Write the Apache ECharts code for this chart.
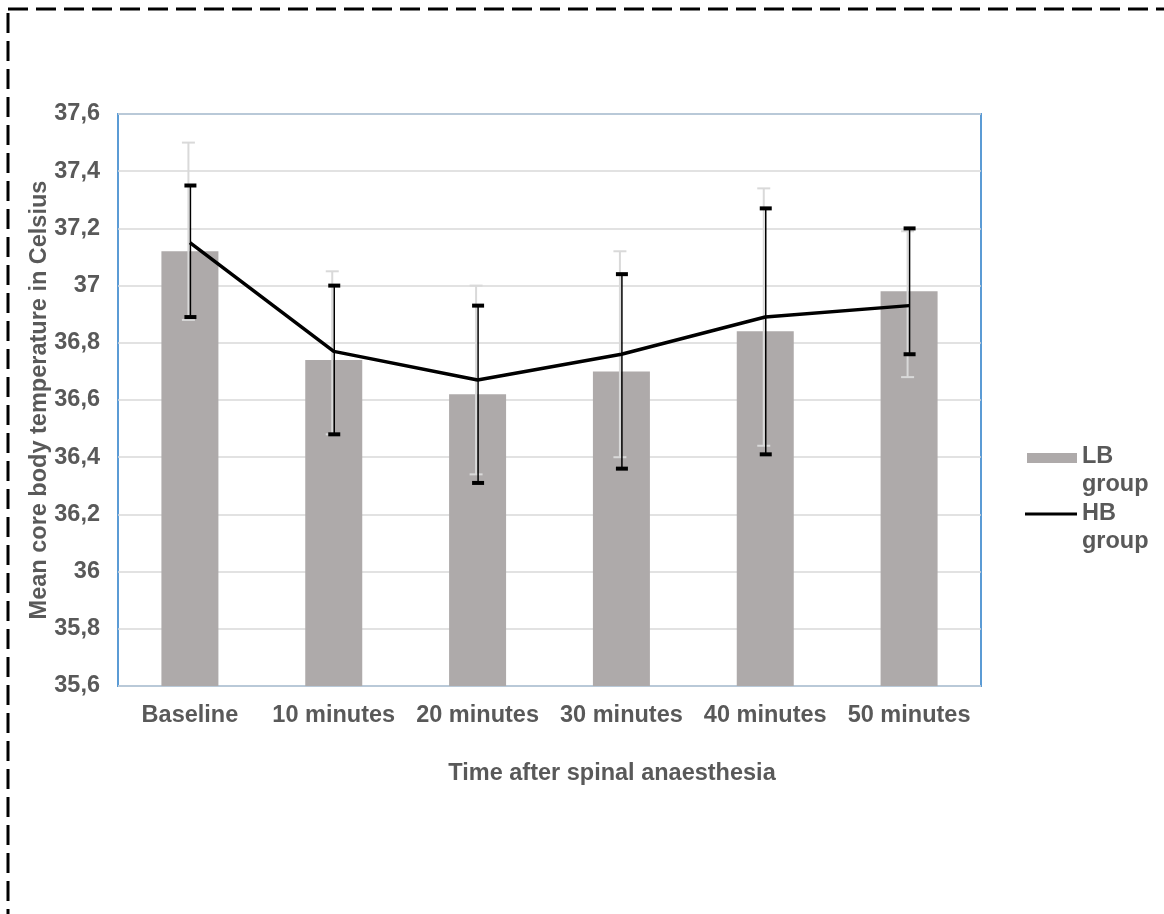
<!DOCTYPE html>
<html>
<head>
<meta charset="utf-8">
<script src="https://cdn.jsdelivr.net/npm/echarts@6/dist/echarts.min.js"></script>
<style>
html,body{margin:0;padding:0;background:#fff;}
#chart{width:1164px;height:914px;}
</style>
</head>
<body>
<div id="chart"></div>
<script>
var categories = ['Baseline', '10 minutes', '20 minutes', '30 minutes', '40 minutes', '50 minutes'];
var lbMeans = [37.12, 36.74, 36.62, 36.70, 36.84, 36.98];
var lbLow   = [36.88, 36.48, 36.34, 36.40, 36.44, 36.68];
var lbHigh  = [37.50, 37.05, 37.00, 37.12, 37.34, 37.19];
var hbMeans = [37.15, 36.77, 36.67, 36.76, 36.89, 36.93];
var hbLow   = [36.89, 36.48, 36.31, 36.36, 36.41, 36.76];
var hbHigh  = [37.35, 37.00, 36.93, 37.04, 37.27, 37.20];
var yTicks = ['35,6','35,8','36','36,2','36,4','36,6','36,8','37','37,2','37,4','37,6'];

var FONT = 'Liberation Sans, Arial, sans-serif';
var TXT = '#595959';
var FS = 23.5;

function errData(low, high) {
  return categories.map(function (c, i) { return [i, low[i], high[i]]; });
}

function errRender(dx, color, lineW, capW, capH) {
  return function (params, api) {
    var x = api.value(0);
    var lo = api.coord([x, api.value(1)]);
    var hi = api.coord([x, api.value(2)]);
    var px = lo[0] + dx;
    return {
      type: 'group',
      children: [
        { type: 'line', shape: { x1: px, y1: lo[1], x2: px, y2: hi[1] },
          style: { stroke: color, lineWidth: lineW } },
        { type: 'rect', shape: { x: px - capW / 2, y: hi[1] - capH / 2, width: capW, height: capH },
          style: { fill: color } },
        { type: 'rect', shape: { x: px - capW / 2, y: lo[1] - capH / 2, width: capW, height: capH },
          style: { fill: color } }
      ]
    };
  };
}

var chart = echarts.init(document.getElementById('chart'), null, { renderer: 'canvas' });
chart.setOption({
  backgroundColor: '#ffffff',
  animation: false,
  textStyle: { fontFamily: FONT },
  grid: { left: 118, top: 114, right: 183, bottom: 228, show: true,
          borderColor: '#5b9bd5', borderWidth: 2, backgroundColor: 'transparent' },
  xAxis: {
    type: 'category',
    data: categories,
    axisLine: { show: false },
    axisTick: { show: false },
    axisLabel: { color: TXT, fontSize: FS, fontWeight: 'bold', fontFamily: FONT, margin: 18, interval: 0 }
  },
  yAxis: {
    type: 'value',
    min: 35.6, max: 37.6, interval: 0.2,
    name: 'Mean core body temperature in Celsius',
    nameLocation: 'middle',
    nameGap: 66,
    nameMoveOverlap: false,
    nameTextStyle: { color: TXT, fontSize: FS, fontWeight: 'bold', fontFamily: FONT },
    axisLine: { show: false },
    axisTick: { show: false },
    splitLine: { lineStyle: { color: '#d9d9d9', width: 1.5 } },
    axisLabel: {
      color: TXT, fontSize: FS, fontWeight: 'bold', fontFamily: FONT, margin: 18,
      formatter: function (v) {
        var idx = Math.round((v - 35.6) / 0.2);
        return yTicks[idx];
      }
    }
  },
  series: [
    { name: 'LB group', type: 'bar', data: lbMeans, barWidth: 57,
      itemStyle: { color: '#aeaaaa' }, z: 1 },
    { name: 'LB err', type: 'custom', data: errData(lbLow, lbHigh),
      renderItem: errRender(-1.5, '#d9d9d9', 2, 13, 2), z: 2 },
    { name: 'HB group', type: 'line', data: hbMeans, symbol: 'none',
      lineStyle: { color: '#000000', width: 3.5 }, z: 3 },
    { name: 'HB err', type: 'custom', data: errData(hbLow, hbHigh),
      renderItem: errRender(0.5, '#000000', 1.5, 12, 4), z: 4 }
  ],
  graphic: [
    { type: 'rect', shape: { x: 8, y: 9, width: 1250, height: 1100 }, silent: true,
      style: { fill: 'none', stroke: '#000', lineWidth: 3, lineDash: [20, 8] } },
    { type: 'text', x: 612, y: 762,
      style: { text: 'Time after spinal anaesthesia', fill: TXT, font: 'bold ' + FS + 'px ' + FONT, textAlign: 'center' } },
    { type: 'rect', shape: { x: 1027, y: 453, width: 50, height: 10 }, style: { fill: '#aeaaaa' } },
    { type: 'text', x: 1082, y: 445, style: { text: 'LB', fill: TXT, font: 'bold ' + FS + 'px ' + FONT } },
    { type: 'text', x: 1082, y: 473, style: { text: 'group', fill: TXT, font: 'bold ' + FS + 'px ' + FONT } },
    { type: 'line', shape: { x1: 1025, y1: 514, x2: 1077, y2: 514 }, style: { stroke: '#000', lineWidth: 3 } },
    { type: 'text', x: 1082, y: 502, style: { text: 'HB', fill: TXT, font: 'bold ' + FS + 'px ' + FONT } },
    { type: 'text', x: 1082, y: 530, style: { text: 'group', fill: TXT, font: 'bold ' + FS + 'px ' + FONT } }
  ]
});
</script>
</body>
</html>
